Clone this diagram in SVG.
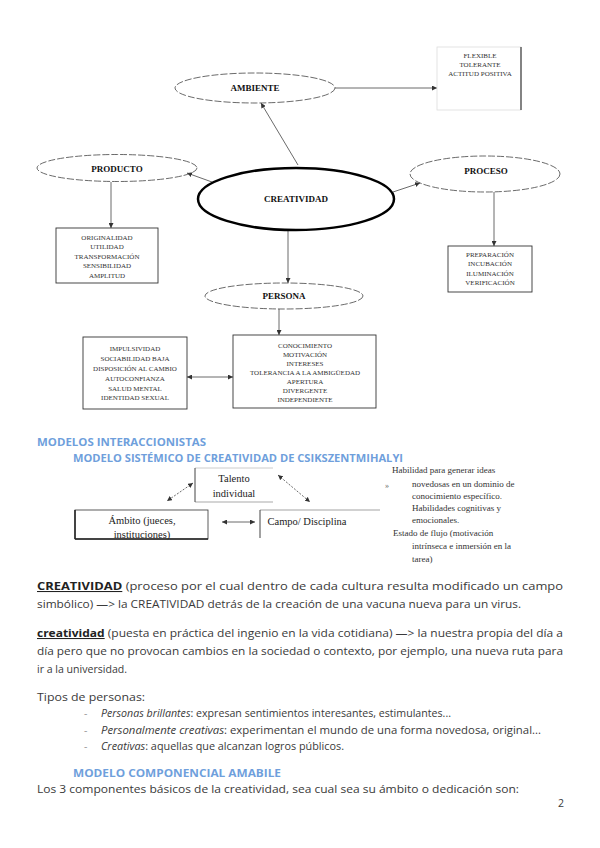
<svg xmlns="http://www.w3.org/2000/svg" width="600" height="848" viewBox="0 0 600 848">
<defs>
<marker id="ah" viewBox="0 0 6 6" refX="6" refY="3" markerWidth="5" markerHeight="5" markerUnits="userSpaceOnUse" orient="auto-start-reverse"><path d="M0,0 L6,3 L0,6 z" fill="#333"/></marker>
<style>
.ell{fill:none;stroke:#444;stroke-width:0.8;stroke-dasharray:7 2}
.nl{font-family:"Liberation Serif",serif;font-weight:bold;font-size:9px;fill:#111;text-anchor:middle}
.bx{fill:#fff;stroke:#333;stroke-width:0.9}
.bt{font-family:"Liberation Serif",serif;font-size:7px;fill:#333;text-anchor:middle}
.cn{stroke:#444;stroke-width:0.8;fill:none}
.st{font-family:"Liberation Serif",serif;font-size:10.5px;fill:#222;text-anchor:middle}
.rt{font-family:"Liberation Serif",serif;font-size:9px;fill:#333}
.p{font-family:"Open Sans","Liberation Sans",sans-serif;font-size:10.5px;fill:#3a3a3a}
.h{font-family:"Open Sans","Liberation Sans",sans-serif;font-size:10.5px;font-weight:bold;fill:#6f9fdc}
.b{font-weight:bold;fill:#222;text-decoration:underline}
.d{fill:#999}
</style>
</defs>
<rect width="600" height="848" fill="#fff"/>

<g id="connectors">
<line class="cn" x1="335" y1="88" x2="437" y2="88" marker-end="url(#ah)" stroke="#888"/>
<line class="cn" x1="298" y1="165" x2="261" y2="103" marker-end="url(#ah)"/>
<line class="cn" x1="212" y1="182" x2="187" y2="173" marker-end="url(#ah)"/>
<line class="cn" x1="393" y1="192" x2="420" y2="183" marker-end="url(#ah)"/>
<line class="cn" x1="111" y1="182" x2="111" y2="228" marker-end="url(#ah)"/>
<line class="cn" x1="494" y1="192" x2="494" y2="246" marker-end="url(#ah)"/>
<line class="cn" x1="288" y1="231" x2="288" y2="283" marker-end="url(#ah)"/>
<line class="cn" x1="279" y1="309" x2="279" y2="335" marker-end="url(#ah)"/>
<line class="cn" x1="187" y1="377" x2="233" y2="377" marker-start="url(#ah)" marker-end="url(#ah)"/>
<line class="cn" x1="193" y1="483" x2="167" y2="501" stroke-dasharray="2 1.5" marker-start="url(#ah)" marker-end="url(#ah)"/>
<line class="cn" x1="278" y1="475" x2="310" y2="502" stroke-dasharray="2 1.5" marker-start="url(#ah)" marker-end="url(#ah)"/>
<line class="cn" x1="222" y1="522" x2="255" y2="522" marker-start="url(#ah)" marker-end="url(#ah)"/>
</g>

<g id="ambiente">
<ellipse class="ell" cx="255" cy="88" rx="80" ry="15"/>
<text class="nl" x="255" y="91">AMBIENTE</text>
</g>
<g id="ambiente-box">
<rect x="437" y="47" width="84" height="63" fill="#fff" stroke="#ddd" stroke-width="0.8"/>
<line x1="521" y1="47" x2="521" y2="110" stroke="#555" stroke-width="1.4"/>
<text class="bt" x="480" y="57.5">FLEXIBLE</text>
<text class="bt" x="480" y="66.5">TOLERANTE</text>
<text class="bt" x="480" y="75.5">ACTITUD POSITIVA</text>
</g>

<g id="producto">
<ellipse class="ell" cx="117" cy="168" rx="80" ry="13.5"/>
<text class="nl" x="117" y="172">PRODUCTO</text>
</g>
<g id="producto-box">
<rect class="bx" x="56" y="228" width="102" height="55"/>
<text class="bt" x="107" y="239.5">ORIGINALIDAD</text>
<text class="bt" x="107" y="249">UTILIDAD</text>
<text class="bt" x="107" y="258.5">TRANSFORMACIÓN</text>
<text class="bt" x="107" y="268">SENSIBILIDAD</text>
<text class="bt" x="107" y="277.5">AMPLITUD</text>
</g>

<g id="creatividad">
<ellipse cx="296" cy="199" rx="98" ry="31" fill="none" stroke="#000" stroke-width="2.5"/>
<text class="nl" x="296" y="202">CREATIVIDAD</text>
</g>

<g id="proceso">
<ellipse class="ell" cx="485" cy="174" rx="75" ry="18"/>
<text class="nl" x="486" y="174">PROCESO</text>
</g>
<g id="proceso-box">
<rect class="bx" x="448" y="246" width="84" height="46"/>
<text class="bt" x="490" y="256.5">PREPARACIÓN</text>
<text class="bt" x="490" y="266">INCUBACIÓN</text>
<text class="bt" x="490" y="275.5">ILUMINACIÓN</text>
<text class="bt" x="490" y="285">VERIFICACIÓN</text>
</g>

<g id="persona">
<ellipse class="ell" cx="284" cy="296" rx="79" ry="13"/>
<text class="nl" x="284" y="299">PERSONA</text>
</g>
<g id="persona-box">
<rect class="bx" x="233" y="335" width="143" height="73"/>
<text class="bt" x="305" y="347.5">CONOCIMIENTO</text>
<text class="bt" x="305" y="356.5">MOTIVACIÓN</text>
<text class="bt" x="305" y="365.5">INTERESES</text>
<text class="bt" x="305" y="374.5">TOLERANCIA A LA AMBIGÜEDAD</text>
<text class="bt" x="305" y="383.5">APERTURA</text>
<text class="bt" x="305" y="392.5">DIVERGENTE</text>
<text class="bt" x="305" y="401.5">INDEPENDIENTE</text>
</g>
<g id="persona-left-box">
<rect class="bx" x="83" y="337" width="104" height="72"/>
<text class="bt" x="135" y="350.5">IMPULSIVIDAD</text>
<text class="bt" x="135" y="360.5">SOCIABILIDAD BAJA</text>
<text class="bt" x="135" y="370.5">DISPOSICIÓN AL CAMBIO</text>
<text class="bt" x="135" y="380.5">AUTOCONFIANZA</text>
<text class="bt" x="135" y="390.5">SALUD MENTAL</text>
<text class="bt" x="135" y="400">IDENTIDAD SEXUAL</text>
</g>

<text class="h" x="37" y="446" textLength="169" lengthAdjust="spacingAndGlyphs">MODELOS INTERACCIONISTAS</text>
<text class="h" x="73" y="462" textLength="330" lengthAdjust="spacingAndGlyphs">MODELO SISTÉMICO DE CREATIVIDAD DE CSIKSZENTMIHALYI</text>

<g id="talento">
<line x1="195" y1="468" x2="273" y2="468" stroke="#ccc" stroke-width="1"/>
<line x1="195" y1="502" x2="273" y2="502" stroke="#aaa" stroke-width="1.2"/>
<line x1="195" y1="468" x2="195" y2="502" stroke="#444" stroke-width="1"/>
<text class="st" x="234" y="482">Talento</text>
<text class="st" x="234" y="497">individual</text>
</g>
<g id="ambito">
<rect x="75" y="510" width="133" height="29" fill="#fff" stroke="#333" stroke-width="0.8"/>
<line x1="75" y1="510" x2="75" y2="539" stroke="#222" stroke-width="1.5"/>
<line x1="75" y1="539" x2="208" y2="539" stroke="#222" stroke-width="1.5"/>
<text class="st" x="142" y="524">Ámbito (jueces,</text>
<text class="st" x="142" y="538">instituciones)</text>
</g>
<g id="campo">
<line x1="260" y1="510" x2="380" y2="510" stroke="#999" stroke-width="0.9"/>
<line x1="260" y1="510" x2="260" y2="538" stroke="#444" stroke-width="1"/>
<text class="st" x="307" y="525">Campo/ Disciplina</text>
</g>
<g id="habilidades">
<text x="385" y="488" font-family="Liberation Serif,serif" font-size="8px" fill="#666">»</text>
<text class="rt" x="392" y="473">Habilidad para generar ideas</text>
<text class="rt" x="412" y="487">novedosas en un dominio de</text>
<text class="rt" x="412" y="499">conocimiento específico.</text>
<text class="rt" x="412" y="511">Habilidades cognitivas y</text>
<text class="rt" x="412" y="523">emocionales.</text>
<text class="rt" x="393" y="536">Estado de flujo (motivación</text>
<text class="rt" x="412" y="549">intrínseca e inmersión en la</text>
<text class="rt" x="412" y="562">tarea)</text>
</g>

<g id="texto">
<text class="p" x="37" y="590" textLength="526" lengthAdjust="spacingAndGlyphs"><tspan class="b">CREATIVIDAD</tspan> (proceso por el cual dentro de cada cultura resulta modificado un campo</text>
<text class="p" x="37" y="608" textLength="484" lengthAdjust="spacingAndGlyphs">simbólico) —&gt; la CREATIVIDAD detrás de la creación de una vacuna nueva para un virus.</text>
<text class="p" x="37" y="637" textLength="526" lengthAdjust="spacingAndGlyphs"><tspan class="b">creatividad</tspan> (puesta en práctica del ingenio en la vida cotidiana) —&gt; la nuestra propia del día a</text>
<text class="p" x="37" y="655" textLength="526" lengthAdjust="spacingAndGlyphs">día pero que no provocan cambios en la sociedad o contexto, por ejemplo, una nueva ruta para</text>
<text class="p" x="37" y="673" textLength="90" lengthAdjust="spacingAndGlyphs">ir a la universidad.</text>
<text class="p" x="37" y="701" textLength="108" lengthAdjust="spacingAndGlyphs">Tipos de personas:</text>
<text class="p d" x="84" y="717">-</text>
<text class="p" x="101" y="717" textLength="350" lengthAdjust="spacingAndGlyphs"><tspan font-style="italic">Personas brillantes</tspan>: expresan sentimientos interesantes, estimulantes...</text>
<text class="p d" x="84" y="734">-</text>
<text class="p" x="101" y="734" textLength="440" lengthAdjust="spacingAndGlyphs"><tspan font-style="italic">Personalmente creativas</tspan>: experimentan el mundo de una forma novedosa, original...</text>
<text class="p d" x="84" y="750">-</text>
<text class="p" x="101" y="750" textLength="243" lengthAdjust="spacingAndGlyphs"><tspan font-style="italic">Creativas</tspan>: aquellas que alcanzan logros públicos.</text>
<text class="h" x="73" y="777" textLength="208" lengthAdjust="spacingAndGlyphs">MODELO COMPONENCIAL AMABILE</text>
<text class="p" x="37" y="793" textLength="482" lengthAdjust="spacingAndGlyphs">Los 3 componentes básicos de la creatividad, sea cual sea su ámbito o dedicación son:</text>
<text class="p" x="558" y="807">2</text>
</g>
</svg>
